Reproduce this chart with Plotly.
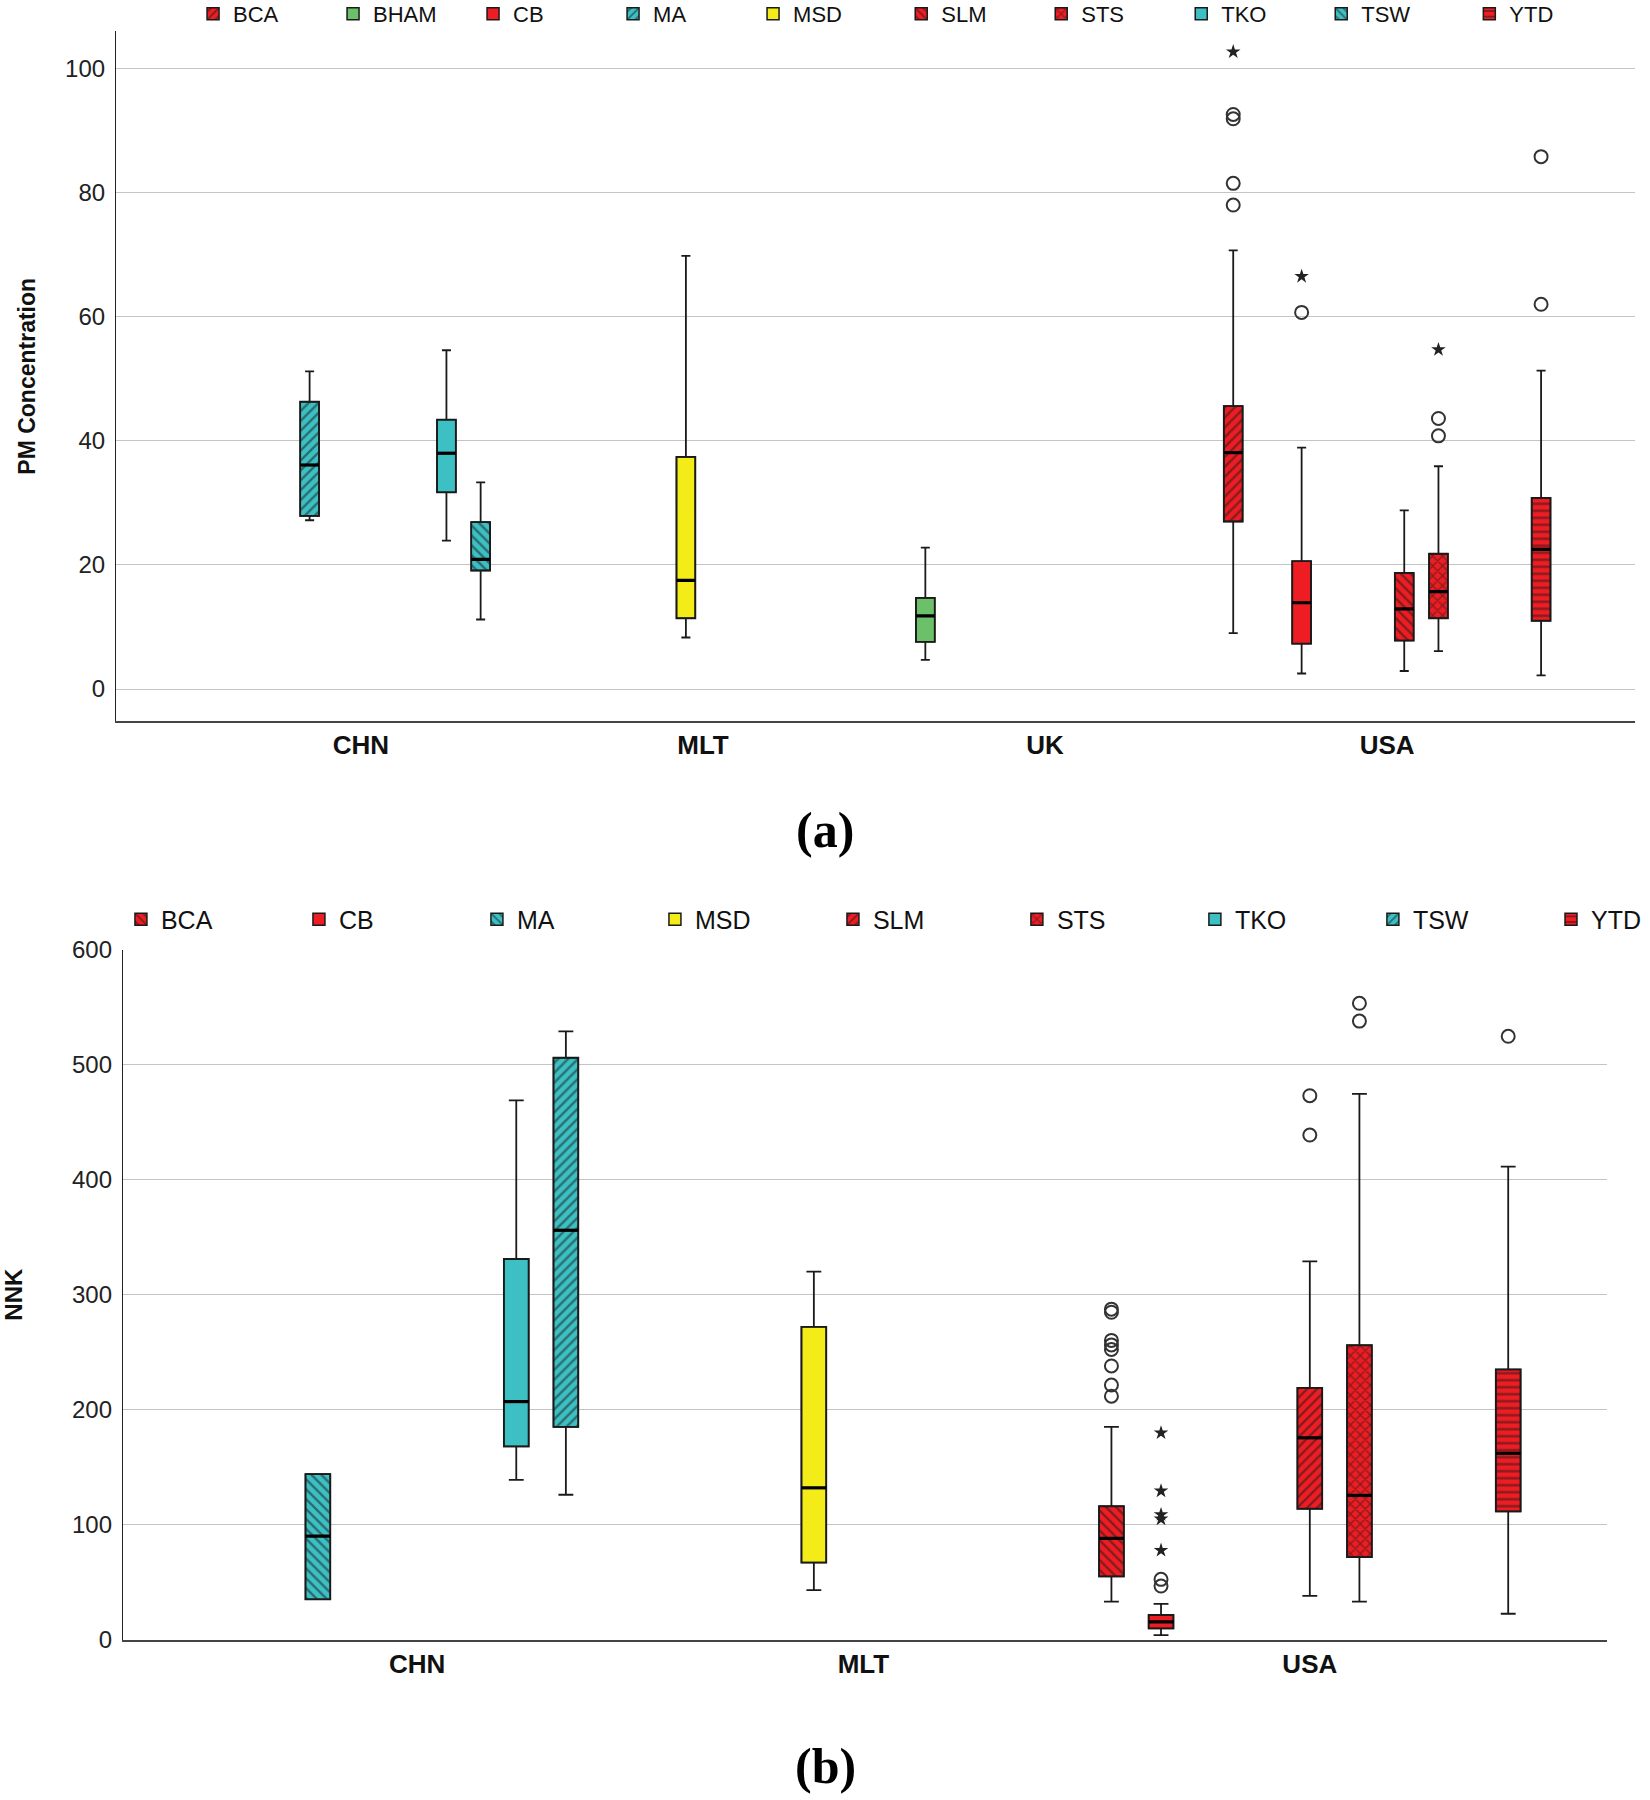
import plotly.graph_objects as go

# ---------------- Panel (a): PM Concentration ----------------
pm_countries = ["CHN", "MLT", "UK", "USA"]
pm_sites = ["BCA", "BHAM", "CB", "MA", "MSD", "SLM", "STS", "TKO", "TSW", "YTD"]
pm_site_country = ["USA", "UK", "USA", "CHN", "MLT", "USA", "USA", "CHN", "CHN", "USA"]
pm_low = [9.0, 4.7, 2.5, 27.2, 8.3, 2.9, 6.1, 23.9, 11.2, 2.2]
pm_q1 = [27.0, 7.6, 7.3, 27.9, 11.4, 7.8, 11.4, 31.7, 19.1, 11.0]
pm_med = [38.1, 11.8, 13.9, 36.1, 17.5, 12.9, 15.7, 38.0, 20.9, 22.5]
pm_q3 = [45.6, 14.7, 20.6, 46.3, 37.4, 18.7, 21.8, 43.4, 26.9, 30.8]
pm_high = [70.7, 22.8, 38.9, 51.2, 69.8, 28.8, 35.9, 54.6, 33.3, 51.3]
pm_pattern = ["/", "", "", "/", "", "\\", "x", "", "\\", "-"]
pm_out_site = ["BCA", "BCA", "BCA", "BCA", "CB", "STS", "STS", "YTD", "YTD"]
pm_out_val = [78.0, 81.5, 91.9, 92.6, 60.7, 40.8, 43.6, 62.0, 85.8]
pm_ext_site = ["BCA", "CB", "STS"]
pm_ext_val = [102.7, 66.5, 54.7]

# ---------------- Panel (b): NNK ----------------
nnk_countries = ["CHN", "MLT", "USA"]
nnk_sites = ["BCA", "CB", "MA", "MSD", "SLM", "STS", "TKO", "TSW", "YTD"]
nnk_site_country = ["USA", "USA", "CHN", "MLT", "USA", "USA", "CHN", "CHN", "USA"]
nnk_low = [33, 3.9, 35, 43, 38, 33, 139, 126, 22.5]
nnk_q1 = [55, 9.7, 35, 67, 113.8, 71.8, 168, 185, 111.5]
nnk_med = [88, 15.5, 90, 132, 175.5, 125.4, 207, 356, 162]
nnk_q3 = [116, 21.4, 144, 272, 219, 256, 331, 506, 235]
nnk_high = [185, 31, 144, 320, 329, 474.6, 469, 529, 411.3]
nnk_pattern = ["\\", "", "\\", "", "/", "x", "", "/", "-"]
nnk_out_site = ["BCA"] * 8 + ["CB", "CB", "SLM", "SLM", "STS", "STS", "YTD"]
nnk_out_val = [287.4, 284.7, 260.2, 256.3, 252.4, 238.0, 221.4, 211.7,
               52.4, 46.6, 473.0, 438.8, 553.4, 537.9, 524.7]
nnk_ext_site = ["CB", "CB", "CB", "CB", "CB"]
nnk_ext_val = [179.8, 129.3, 108.7, 104.9, 77.7]

site_color = {
    "BCA": "#EE1D23", "BHAM": "#6CC06A", "CB": "#EE1D23", "MA": "#3CC0C4",
    "MSD": "#F3EC19", "SLM": "#EE1D23", "STS": "#EE1D23", "TKO": "#3CC0C4",
    "TSW": "#3CC0C4", "YTD": "#EE1D23",
}

FONT = "Liberation Sans"
INK = "#1a1a1a"
fig = go.Figure()


def add_panel(sites, site_country, countries, low, q1, med, q3, high, pattern,
              out_site, out_val, ext_site, ext_val, xa, ya, legend_of, bw_frac, whisk):
    n = len(sites)
    bw = bw_frac / n
    pos = {}
    for i, s in enumerate(sites):
        pos[s] = countries.index(site_country[i]) + (i - (n - 1) / 2) / n
    for i, s in enumerate(sites):
        fig.add_trace(go.Bar(
            x=[pos[s]], y=[q3[i] - q1[i]], base=[q1[i]], width=bw, name=s,
            marker=dict(color=site_color[s],
                        line=dict(color=INK, width=1.5),
                        pattern=dict(shape=pattern[i], fgcolor=INK,
                                     bgcolor=site_color[s], size=7, solidity=0.34)),
            xaxis=xa, yaxis=ya, legend=legend_of(i), hoverinfo="skip"))
    for i, s in enumerate(sites):
        fig.add_trace(go.Box(
            x=[pos[s]], q1=[q1[i]], median=[med[i]], q3=[q3[i]],
            lowerfence=[low[i]], upperfence=[high[i]], width=bw,
            fillcolor="rgba(0,0,0,0)", line=dict(color=INK, width=1.8),
            whiskerwidth=whisk, boxpoints=False, showlegend=False,
            xaxis=xa, yaxis=ya, hoverinfo="skip"))
    # thicker median bars
    mx, my = [], []
    for i, s in enumerate(sites):
        mx += [pos[s] - bw / 2, pos[s] + bw / 2, None]
        my += [med[i], med[i], None]
    fig.add_trace(go.Scatter(x=mx, y=my, mode="lines",
                             line=dict(color="#000000", width=3.2),
                             showlegend=False, xaxis=xa, yaxis=ya, hoverinfo="skip"))
    fig.add_trace(go.Scatter(
        x=[pos[s] for s in out_site], y=out_val, mode="markers",
        marker=dict(symbol="circle-open", size=13, color="#333333",
                    line=dict(width=2, color="#333333")),
        showlegend=False, xaxis=xa, yaxis=ya, hoverinfo="skip"))
    fig.add_trace(go.Scatter(
        x=[pos[s] for s in ext_site], y=ext_val, mode="markers",
        marker=dict(symbol="star", size=11, color="#222222"),
        showlegend=False, xaxis=xa, yaxis=ya, hoverinfo="skip"))


add_panel(pm_sites, pm_site_country, pm_countries, pm_low, pm_q1, pm_med, pm_q3,
          pm_high, pm_pattern, pm_out_site, pm_out_val, pm_ext_site, pm_ext_val,
          "x", "y", lambda i: "legend" if i < 5 else ("legend3" if i < 9 else "legend5"),
          0.55, 0.48)
add_panel(nnk_sites, nnk_site_country, nnk_countries, nnk_low, nnk_q1, nnk_med,
          nnk_q3, nnk_high, nnk_pattern, nnk_out_site, nnk_out_val, nnk_ext_site,
          nnk_ext_val, "x2", "y2",
          lambda i: "legend2" if i < 5 else ("legend4" if i < 8 else "legend6"),
          0.5, 0.6)

axis_common = dict(showgrid=False, zeroline=False, ticks="", automargin=False)


def leg(x, y, size, ew):
    return dict(orientation="h", x=x, y=y, xanchor="left", yanchor="middle",
                font=dict(size=size, family=FONT, color="#111111"), entrywidth=ew,
                bgcolor="rgba(0,0,0,0)", traceorder="normal")


fig.update_layout(
    width=1650, height=1800,
    margin=dict(l=0, r=0, t=0, b=0, autoexpand=False),
    paper_bgcolor="white", plot_bgcolor="white",
    barmode="overlay", boxmode="overlay",
    font=dict(family=FONT, color="#111111"),
    xaxis=dict(domain=[0.0703, 0.991], range=[-0.716, 3.725], anchor="y",
               tickvals=list(range(len(pm_countries))), ticktext=pm_countries,
               tickfont=dict(size=26, weight="bold", family=FONT, color="#111111"),
               showline=True, linecolor="#444444", linewidth=2, **axis_common),
    yaxis=dict(domain=[0.5993, 0.9826], range=[-5.2, 106], anchor="x",
               tickvals=[0, 20, 40, 60, 80, 100],
               tickfont=dict(size=24, family=FONT, color="#222222"),
               ticklabelstandoff=5,
               showline=True, linecolor="#222222", linewidth=1.2,
               showgrid=True, gridcolor="#C4C4C4", gridwidth=1.3,
               zeroline=False, ticks="", automargin=False,
               title=dict(text="PM Concentration", standoff=22,
                          font=dict(size=23, weight="bold", family=FONT))),
    xaxis2=dict(domain=[0.0745, 0.974], range=[-0.659, 2.666], anchor="y2",
                tickvals=list(range(len(nnk_countries))), ticktext=nnk_countries,
                tickfont=dict(size=26, weight="bold", family=FONT, color="#111111"),
                showline=True, linecolor="#444444", linewidth=2, **axis_common),
    yaxis2=dict(domain=[0.0891, 0.4724], range=[0, 600], anchor="x2",
                tickvals=[0, 100, 200, 300, 400, 500, 600],
                tickfont=dict(size=24, family=FONT, color="#222222"),
                ticklabelstandoff=5,
                showline=True, linecolor="#222222", linewidth=1.2,
                showgrid=True, gridcolor="#C4C4C4", gridwidth=1.3,
                zeroline=False, ticks="", automargin=False,
                title=dict(text="NNK", standoff=42,
                           font=dict(size=24, weight="bold", family=FONT))),
    legend=leg(0.117, 0.9922, 22, 95),
    legend3=leg(0.5462, 0.9922, 22, 95),
    legend5=leg(0.8905, 0.9922, 22, 60),
    legend2=leg(0.0733, 0.4892, 25, 133),
    legend4=leg(0.6163, 0.4892, 25, 133),
    legend6=leg(0.9400, 0.4892, 25, 50),
    annotations=[
        dict(text="<b>(a)</b>", x=0.5, y=0.539, xref="paper", yref="paper",
             xanchor="center", yanchor="middle", showarrow=False,
             font=dict(size=50, family="Liberation Serif", color="black")),
        dict(text="<b>(b)</b>", x=0.5, y=0.019, xref="paper", yref="paper",
             xanchor="center", yanchor="middle", showarrow=False,
             font=dict(size=50, family="Liberation Serif", color="black")),
    ],
)

fig.write_html("out.html", config={"displayModeBar": False},
               post_script="document.body.style.margin='0';")
